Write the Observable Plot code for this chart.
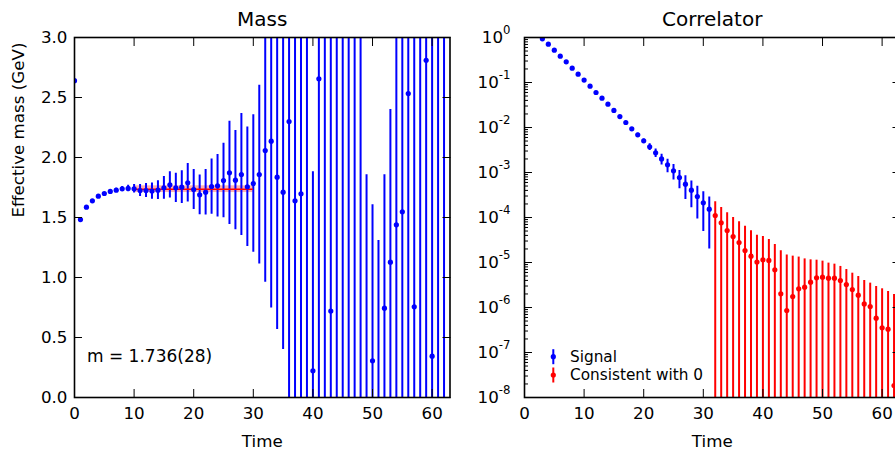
<!DOCTYPE html>
<html><head><meta charset="utf-8">
<script src="https://cdn.jsdelivr.net/npm/d3@7"></script>
<script src="https://cdn.jsdelivr.net/npm/@observablehq/plot@0.6"></script>
<style>
html,body{margin:0;padding:0;background:#fff;overflow:hidden;width:895px;height:451px;}
#wrap{position:relative;width:895px;height:451px;overflow:hidden;background:#fff;}
#left,#right{position:absolute;top:0;width:460px;height:451px;}
#left{left:0px;}
#right{left:450px;}
#wrap svg{max-width:none !important;}
</style></head>
<body><div id="wrap"><div id="left"></div><div id="right"></div></div>
<script>
// ---------- data ----------
const massTime = d3.range(0, 63);
const massValues = [2.64, 1.483, 1.586, 1.639, 1.678, 1.700, 1.717, 1.728, 1.739, 1.742,
  1.739, 1.725, 1.725, 1.720, 1.728, 1.747, 1.772, 1.747, 1.753, 1.789,
  1.733, 1.689, 1.711, 1.758, 1.764, 1.808, 1.872, 1.811, 1.858, 1.756,
  1.783, 1.858, 2.058, 2.136, 1.836, 1.711, 2.300, 1.639, 1.697, 3.40,
  0.222, 2.656, -0.40, 0.720, -0.30, 3.30, -0.20, 3.50, -0.50, -0.60,
  0.306, -0.50, 0.744, 1.128, 1.439, 1.547, 2.533, 0.756, -0.40, 2.810,
  0.344, 3.30, -0.30];
const massErrors = [0.005, 0.004, 0.005, 0.005, 0.006, 0.008, 0.010, 0.015, 0.020, 0.027,
  0.035, 0.050, 0.058, 0.067, 0.079, 0.095, 0.110, 0.122, 0.136, 0.160,
  0.167, 0.166, 0.190, 0.230, 0.260, 0.310, 0.430, 0.414, 0.508, 0.498,
  0.573, 0.745, 1.097, 1.390, 1.270, 1.310, 2.600, 2.000, 2.000, 3.800,
  1.660, 2.900, 4.000, 2.500, 3.600, 3.600, 3.500, 3.800, 4.000, 2.456,
  1.300, 1.808, 1.112, 1.272, 1.800, 1.800, 2.700, 2.500, 3.600, 3.000,
  2.800, 3.500, 3.500];
const fitRange = [10, 30];
const fitMass = 1.736;
const fitError = 0.028;
const fitLabel = "m = 1.736(28)";

const corrTime = d3.range(3, 63);
const corrValues = [0.933, 0.711, 0.524, 0.385, 0.288, 0.208, 0.153, 0.113, 0.0830, 0.0600,
  0.0449, 0.0330, 0.0239, 0.0175, 0.0129, 0.00933, 0.00687, 0.00506, 0.00372, 0.00274,
  0.00200, 0.00148, 0.00109, 7.74e-4, 5.50e-4, 4.05e-4, 2.93e-4, 2.12e-4, 1.53e-4, 1.107e-4,
  7.60e-5, 5.14e-5, 3.78e-5, 2.78e-5, 1.85e-5, 1.38e-5, 1.02e-5, 1.15e-5, 1.11e-5, 6.87e-6,
  2.01e-6, 8.57e-7, 1.75e-6, 2.60e-6, 2.83e-6, 3.66e-6, 4.56e-6, 4.72e-6, 4.49e-6, 4.49e-6,
  3.98e-6, 3.24e-6, 2.51e-6, 1.88e-6, 1.20e-6, 1.05e-6, 5.79e-7, 3.53e-7, 3.30e-7, 1.85e-8];
const corrErrors = [0.002, 0.0015, 0.0012, 0.001, 0.0009, 0.0008, 0.0007, 0.0006, 0.0005, 0.0005,
  6.7e-4, 6.6e-4, 6.0e-4, 6.1e-4, 5.8e-4, 5.6e-4, 5.5e-4, 5.1e-4, 6.3e-4, 5.8e-4,
  5.4e-4, 4.9e-4, 4.1e-4, 3.4e-4, 3.0e-4, 2.4e-4, 2.0e-4, 1.63e-4, 1.33e-4, 1.12e-4,
  9.07e-5, 7.56e-5, 6.22e-5, 5.24e-5, 4.56e-5, 3.68e-5, 3.03e-5, 2.63e-5, 2.13e-5, 1.82e-5,
  1.62e-5, 1.39e-5, 1.21e-5, 1.06e-5, 9.2e-6, 7.8e-6, 6.7e-6, 6.0e-6, 5.2e-6, 4.7e-6,
  4.2e-6, 3.74e-6, 3.28e-6, 3.0e-6, 2.78e-6, 2.43e-6, 2.35e-6, 2.25e-6, 1.94e-6, 1.93e-6];
const seriesNames = ["Signal", "Consistent with 0"];
const seriesColors = ["#0000ff", "#ff0000"];

const timeTicks = [0, 10, 20, 30, 40, 50, 60];
const massTicks = [0, 0.5, 1.0, 1.5, 2.0, 2.5, 3.0];
const corrTicks = [1e-8, 1e-7, 1e-6, 1e-5, 1e-4, 1e-3, 1e-2, 1e-1, 1];
const corrMinorTicks = corrTicks.slice(0, -1).flatMap(p => [2,3,4,5,6,7,8,9].map(k => k * p));

// ---------- layout ----------
const H = 451, ML = 74, MT = 37, MB = 54, FW = 375.5, MR = 8;
const FONT = "DejaVu Sans";
const style = {fontFamily: FONT, fontSize: "16.7px", color: "black", background: "transparent", overflow: "visible", maxWidth: "none"};

const mass = massTime.map((t, i) => ({t, m: massValues[i], e: massErrors[i]}));
const corr = corrTime.map((t, i) => {
  const v = corrValues[i], e = corrErrors[i];
  return {t, v, e, s: e >= v ? 1 : 0};
});

function frameTicks(xTicks, yTicks, yMinor) {
  const m = [
    Plot.axisX(xTicks, {anchor: "bottom", tickSize: 0, tickPadding: 10, label: null}),
    Plot.axisX(xTicks, {anchor: "bottom", tickSize: 8, dy: -8, tickFormat: () => "", label: null}),
    Plot.axisX(xTicks, {anchor: "top", tickSize: 8, dy: 8, tickFormat: () => "", label: null}),
    Plot.axisY(yTicks, {anchor: "left", tickSize: 8, dx: 8, tickFormat: () => "", label: null}),
    Plot.axisY(yTicks, {anchor: "right", tickSize: 8, dx: -8, tickFormat: () => "", label: null})
  ];
  if (yMinor) {
    m.push(Plot.axisY(yMinor, {anchor: "left", tickSize: 4, dx: 4, tickFormat: () => "", label: null}));
    m.push(Plot.axisY(yMinor, {anchor: "right", tickSize: 4, dx: -4, tickFormat: () => "", label: null}));
  }
  return m;
}

const left = Plot.plot({
  width: ML + FW + MR, height: H,
  marginLeft: ML, marginRight: MR, marginTop: MT, marginBottom: MB,
  x: {domain: [0, 63]},
  y: {domain: [0, 3]},
  style,
  marks: [
    Plot.rect([fitMass], {x1: () => fitRange[0], x2: () => fitRange[1], y1: d => d - fitError, y2: d => d + fitError, fill: "#ff0000", fillOpacity: 0.3}),
    Plot.ruleX(mass, {x: "t", y1: d => d.m - d.e, y2: d => d.m + d.e, stroke: seriesColors[0], strokeWidth: 2, clip: true}),
    Plot.ruleY([fitMass], {x1: () => fitRange[0], x2: () => fitRange[1], stroke: "#ff0000", strokeWidth: 1.5}),
    Plot.dot(mass, {x: "t", y: "m", r: 2.6, fill: seriesColors[0], stroke: "none", clip: true}),
    Plot.axisY(massTicks, {anchor: "left", tickSize: 0, tickPadding: 7, tickFormat: d3.format(".1f"), label: null}),
    ...frameTicks(timeTicks, massTicks, null),
    Plot.frame({stroke: "black", strokeWidth: 1.6}),
    Plot.text(["Mass"], {text: d => d, frameAnchor: "top", dy: -18, lineAnchor: "middle", fontSize: 20}),
    Plot.text(["Time"], {text: d => d, frameAnchor: "bottom", dy: 44, lineAnchor: "middle"}),
    Plot.text(["Effective mass (GeV)"], {text: d => d, frameAnchor: "left", dx: -55.5, rotate: -90, lineAnchor: "middle"}),
    Plot.text([fitLabel], {text: d => d, frameAnchor: "bottom-left", dx: 12.5, dy: -40.5, textAnchor: "start", lineAnchor: "middle", fontSize: 17})
  ]
});
document.getElementById("left").appendChild(left);

const right = Plot.plot({
  width: ML + FW + MR, height: H,
  marginLeft: ML, marginRight: MR, marginTop: MT, marginBottom: MB,
  x: {domain: [0, 63]},
  y: {type: "log", domain: [1e-8, 1]},
  style,
  marks: [
    Plot.ruleX(corr, {x: "t", y1: d => (d.v - d.e > 0 ? d.v - d.e : 1e-10), y2: d => d.v + d.e, stroke: d => seriesColors[d.s], strokeWidth: 2, clip: true}),
    Plot.dot(corr, {x: "t", y: "v", r: 2.6, fill: d => seriesColors[d.s], stroke: "none", clip: true}),
    Plot.axisY(corrTicks, {anchor: "left", tickSize: 0, tickPadding: 14, tickFormat: d => "10^" + Math.round(Math.log10(d)), label: null}),
    ...frameTicks(timeTicks, corrTicks, corrMinorTicks),
    Plot.frame({stroke: "black", strokeWidth: 1.6}),
    Plot.text(["Correlator"], {text: d => d, frameAnchor: "top", dy: -18, lineAnchor: "middle", fontSize: 20}),
    Plot.text(["Time"], {text: d => d, frameAnchor: "bottom", dy: 44, lineAnchor: "middle"})
  ]
});
document.getElementById("right").appendChild(right);

// superscript exponents on log tick labels
d3.select(right).selectAll("text").each(function() {
  const s = this.textContent;
  const m = /^10\^(-?\d+)$/.exec(s);
  if (!m) return;
  const t = d3.select(this);
  t.text(null);
  t.append("tspan").text("10");
  t.append("tspan").attr("dy", "-8.5").attr("font-size", "11.7px").text(m[1]);
});

// legend (errorbar symbols)
const lg = d3.select(right).append("g").attr("font-family", FONT).attr("font-size", "15.3px").attr("text-anchor", "start");
seriesNames.forEach((name, i) => {
  const cy = 356.7 + i * 18.3;
  lg.append("line").attr("x1", 103.3).attr("x2", 103.3).attr("y1", cy - 7.5).attr("y2", cy + 7.5)
    .attr("stroke", seriesColors[i]).attr("stroke-width", 2);
  lg.append("circle").attr("cx", 103.3).attr("cy", cy).attr("r", 2.6).attr("fill", seriesColors[i]);
  lg.append("text").attr("x", 120).attr("y", cy).attr("dy", "0.35em").attr("text-anchor", "start").attr("fill", "black").text(name);
});
</script>
</body></html>
